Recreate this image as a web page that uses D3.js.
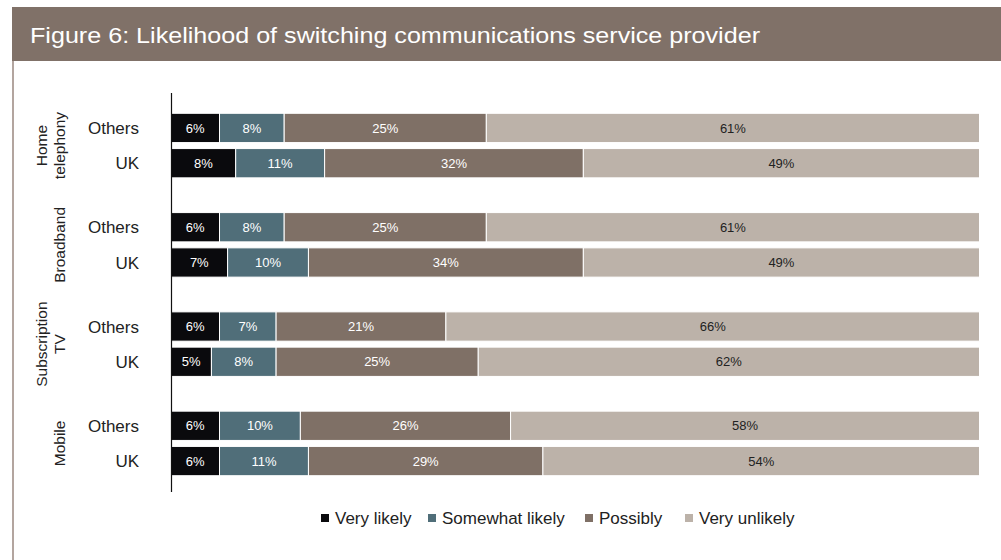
<!DOCTYPE html>
<html>
<head>
<meta charset="utf-8">
<script src="https://cdn.jsdelivr.net/npm/d3@7/dist/d3.min.js"></script>
<style>
  html, body { margin: 0; padding: 0; background: #fff; }
  svg { display: block; font-family: "Liberation Sans", Arial, Helvetica, sans-serif; }
</style>
</head>
<body>
<svg id="chart" width="1001" height="560"></svg>
<script>
// Survey responses: share of respondents by likelihood of switching provider
const services = ["Home telephony", "Broadband", "Subscription TV", "Mobile"];
const serviceLines = [["Home", "telephony"], ["Broadband"], ["Subscription", "TV"], ["Mobile"]];
const regions = ["Others", "UK"];
const responses = ["Very likely", "Somewhat likely", "Possibly", "Very unlikely"];

// Values per service, per region (Others, UK), in response order
const homeTelephony = [[6, 8, 25, 61], [8, 11, 32, 49]];
const broadband = [[6, 8, 25, 61], [7, 10, 34, 49]];
const subscriptionTV = [[6, 7, 21, 66], [5, 8, 25, 62]];
const mobile = [[6, 10, 26, 58], [6, 11, 29, 54]];
const seriesByService = [homeTelephony, broadband, subscriptionTV, mobile];

const colors = ["#0a0a0d", "#506e79", "#7f7066", "#bcb2a9"];
const labelColors = ["#ffffff", "#ffffff", "#ffffff", "#222222"];

const svg = d3.select("#chart");

// Header band and frame
svg.append("rect").attr("x", 12).attr("y", 7).attr("width", 989).attr("height", 54).attr("fill", "#807168");
svg.append("rect").attr("x", 12).attr("y", 61).attr("width", 2).attr("height", 499).attr("fill", "#b3a59f");
svg.append("text")
  .attr("x", 30).attr("y", 43)
  .attr("fill", "#ffffff")
  .attr("font-size", 22)
  .attr("textLength", 730)
  .attr("lengthAdjust", "spacingAndGlyphs")
  .text("Figure 6: Likelihood of switching communications service provider");

// Scales
const x = d3.scaleLinear().domain([0, 100]).range([171, 979.5]);
const yGroup = d3.scaleBand().domain(services).range([113.3, 475.7]).paddingInner(0.35).paddingOuter(0);
const yRow = d3.scaleBand().domain(regions).range([0, yGroup.bandwidth()]).paddingInner(0.17).paddingOuter(0);

// Flatten into stacked segments
const segments = [];
services.forEach((s, si) => {
  regions.forEach((r, ri) => {
    let acc = 0;
    seriesByService[si][ri].forEach((v, k) => {
      segments.push({ service: s, region: r, k, v, x0: acc, x1: acc + v });
      acc += v;
    });
  });
});

const g = svg.append("g");
g.selectAll("rect.seg")
  .data(segments)
  .join("rect")
  .attr("class", "seg")
  .attr("x", d => x(d.x0))
  .attr("y", d => yGroup(d.service) + yRow(d.region))
  .attr("width", d => x(d.x1) - x(d.x0))
  .attr("height", yRow.bandwidth())
  .attr("fill", d => colors[d.k])
  .attr("stroke", "#ffffff")
  .attr("stroke-width", 1);

g.selectAll("text.val")
  .data(segments)
  .join("text")
  .attr("class", "val")
  .attr("x", d => (x(d.x0) + x(d.x1)) / 2)
  .attr("y", d => yGroup(d.service) + yRow(d.region) + yRow.bandwidth() / 2)
  .attr("dy", "0.36em")
  .attr("text-anchor", "middle")
  .attr("font-size", 13)
  .attr("fill", d => labelColors[d.k])
  .text(d => d.v + "%");

// Vertical axis line
svg.append("line")
  .attr("x1", 171.5).attr("x2", 171.5)
  .attr("y1", 93).attr("y2", 492)
  .attr("stroke", "#111").attr("stroke-width", 1.2);

// Row labels
services.forEach(s => {
  regions.forEach(r => {
    svg.append("text")
      .attr("x", 139)
      .attr("y", yGroup(s) + yRow(r) + yRow.bandwidth() / 2)
      .attr("dy", "0.36em")
      .attr("text-anchor", "end")
      .attr("font-size", 17)
      .attr("fill", "#222")
      .text(r);
  });
});

// Rotated service labels
services.forEach((s, si) => {
  const lines = serviceLines[si];
  const cy = yGroup(s) + yGroup.bandwidth() / 2;
  lines.forEach((ln, li) => {
    const cx = 65 - (lines.length - 1 - li) * 18;
    svg.append("text")
      .attr("transform", `translate(${cx},${cy}) rotate(-90)`)
      .attr("text-anchor", "middle")
      .attr("font-size", 15.5)
      .attr("fill", "#222")
      .text(ln);
  });
});

// Legend
const legendX = [321, 428, 585, 685];
const legend = svg.append("g");
responses.forEach((r, i) => {
  legend.append("rect")
    .attr("x", legendX[i]).attr("y", 514)
    .attr("width", 8).attr("height", 8)
    .attr("fill", colors[i]);
  legend.append("text")
    .attr("x", legendX[i] + 14).attr("y", 518)
    .attr("dy", "0.36em")
    .attr("font-size", 17)
    .attr("fill", "#222")
    .text(r);
});
</script>
</body>
</html>
